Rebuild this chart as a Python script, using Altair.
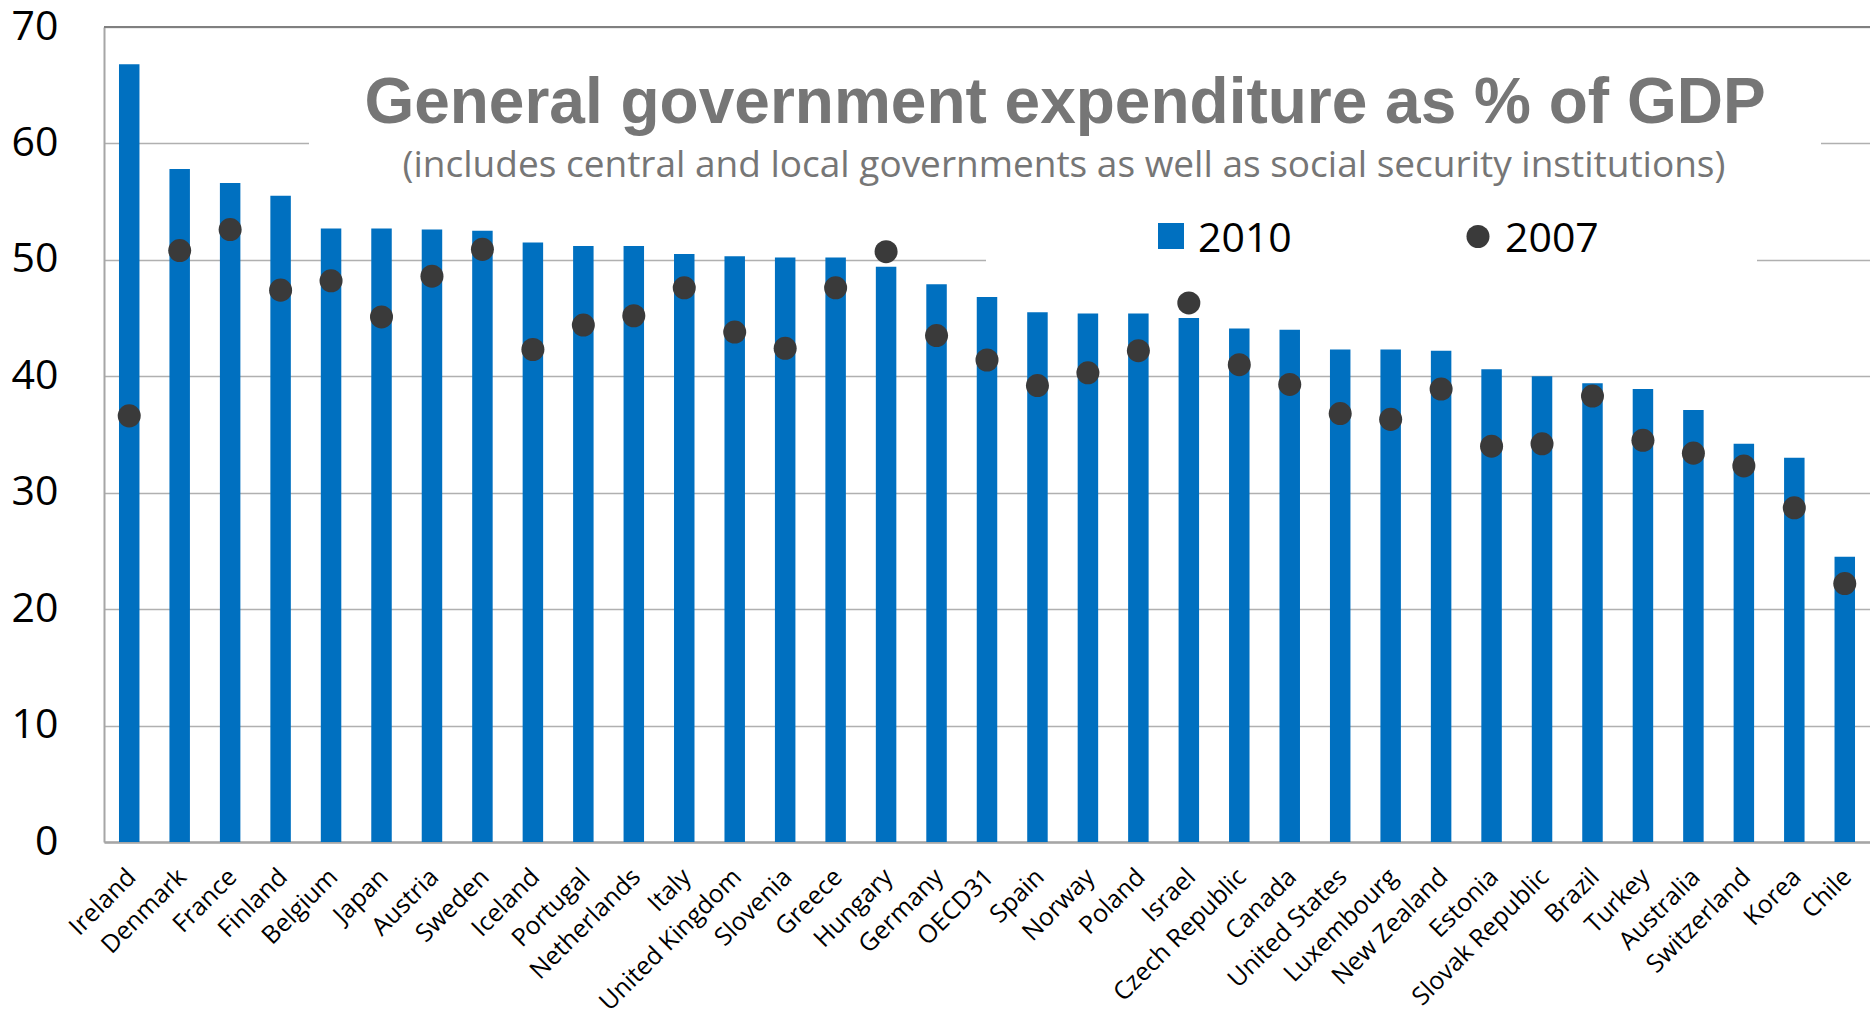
import altair as alt
import pandas as pd

countries = ["Ireland", "Denmark", "France", "Finland", "Belgium", "Japan", "Austria",
             "Sweden", "Iceland", "Portugal", "Netherlands", "Italy", "United Kingdom",
             "Slovenia", "Greece", "Hungary", "Germany", "OECD31", "Spain", "Norway",
             "Poland", "Israel", "Czech Republic", "Canada", "United States", "Luxembourg",
             "New Zealand", "Estonia", "Slovak Republic", "Brazil", "Turkey", "Australia",
             "Switzerland", "Korea", "Chile"]
v2010 = [66.8, 57.8, 56.6, 55.5, 52.7, 52.7, 52.6, 52.5, 51.5, 51.2, 51.2, 50.5, 50.3,
         50.2, 50.2, 49.4, 47.9, 46.8, 45.5, 45.4, 45.4, 45.0, 44.1, 44.0, 42.3, 42.3,
         42.2, 40.6, 40.0, 39.4, 38.9, 37.1, 34.2, 33.0, 24.5]
v2007 = [36.6, 50.8, 52.6, 47.4, 48.2, 45.1, 48.6, 50.9, 42.3, 44.4, 45.2, 47.6, 43.8,
         42.4, 47.6, 50.7, 43.5, 41.4, 39.2, 40.3, 42.2, 46.3, 41.0, 39.3, 36.8, 36.3,
         38.9, 34.0, 34.2, 38.3, 34.5, 33.4, 32.3, 28.7, 22.2]
y_ticks = [0, 10, 20, 30, 40, 50, 60, 70]

title_text = "General government expenditure as % of GDP"
subtitle_text = "(includes central and local governments as well as social security institutions)"
legend_labels = ["2010", "2007"]

df = pd.DataFrame({"country": countries, "y2010": v2010, "y2007": v2007})
one = pd.DataFrame({"k": [0]})

W, H = 1766, 815
BLUE = "#0070C0"
DOT = "#3a3a3a"
GRAY_TXT = "#767676"

xscale = alt.Scale(domain=countries, paddingInner=0.594, paddingOuter=0.297)
yscale = alt.Scale(domain=[0, 70], nice=False, zero=True)

xaxis = alt.Axis(title=None, labelAngle=-45, labelFont="Open Sans", labelFontSize=25,
                 labelColor="black", domainColor="#a6a6a6", domainWidth=2.5, ticks=False,
                 labelPadding=22, labelOffset=-6, grid=False, labelOverlap=False,
                 labelLimit=400)
yaxis = alt.Axis(title=None, values=y_ticks, grid=True, gridColor="#b0b0b0", gridWidth=1.6,
                 domainColor="#a6a6a6", domainWidth=2, ticks=False, labelFont="Open Sans",
                 labelFontSize=41, labelColor="black", labelPadding=46)

bars = alt.Chart(df).mark_bar(color=BLUE).encode(
    x=alt.X("country:N", scale=xscale, sort=countries, axis=xaxis),
    y=alt.Y("y2010:Q", scale=yscale, axis=yaxis),
)
dots = alt.Chart(df).mark_circle(color=DOT, size=530, opacity=1).encode(
    x=alt.X("country:N", scale=xscale, sort=countries),
    y=alt.Y("y2007:Q", scale=yscale),
)

top_rule = alt.Chart(one).mark_rule(color="#808080", strokeWidth=2).encode(
    x=alt.value(0), x2=alt.value(W), y=alt.value(0))

title_box = alt.Chart(one).mark_rect(color="white").encode(
    x=alt.value(205), x2=alt.value(1717), y=alt.value(10), y2=alt.value(172))
legend_box = alt.Chart(one).mark_rect(color="white").encode(
    x=alt.value(882), x2=alt.value(1653), y=alt.value(176), y2=alt.value(248))

title = alt.Chart(one).mark_text(text=title_text, font="Liberation Sans", fontWeight="bold",
                                 fontSize=64, color=GRAY_TXT, align="center",
                                 baseline="alphabetic").encode(
    x=alt.value(961), y=alt.value(96))
subtitle = alt.Chart(one).mark_text(text=subtitle_text, font="Open Sans", fontSize=37,
                                    color=GRAY_TXT, align="center",
                                    baseline="alphabetic").encode(
    x=alt.value(960), y=alt.value(150))

leg_sq = alt.Chart(one).mark_rect(color=BLUE).encode(
    x=alt.value(1054), x2=alt.value(1080), y=alt.value(196), y2=alt.value(222))
leg_dot = alt.Chart(one).mark_circle(color=DOT, size=530, opacity=1).encode(
    x=alt.value(1374), y=alt.value(209.5))
leg_t1 = alt.Chart(one).mark_text(text=legend_labels[0], font="Open Sans", fontSize=41,
                                  color="black", align="left", baseline="alphabetic").encode(
    x=alt.value(1094), y=alt.value(225))
leg_t2 = alt.Chart(one).mark_text(text=legend_labels[1], font="Open Sans", fontSize=41,
                                  color="black", align="left", baseline="alphabetic").encode(
    x=alt.value(1401), y=alt.value(225))

chart = alt.layer(
    bars, title_box, legend_box, top_rule, dots, title, subtitle,
    leg_sq, leg_dot, leg_t1, leg_t2,
).properties(
    width=W, height=H,
    autosize=alt.AutoSizeParams(type="none"),
    padding={"left": 104, "top": 27, "right": 0, "bottom": 177},
    background="white",
).configure_view(stroke=None)

chart.save("out.html", embed_options={"renderer": "svg", "actions": False})
